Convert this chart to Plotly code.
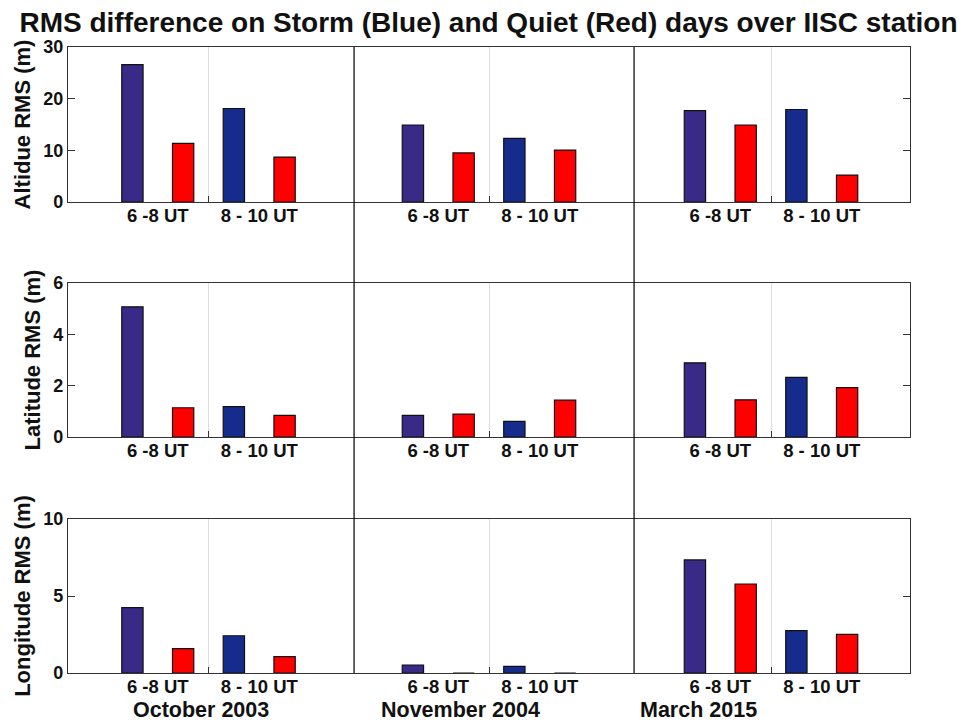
import plotly.graph_objects as go

# ---------------- data ----------------
months = ["October 2003", "November 2004", "March 2015"]
slots = ["6 -8 UT", "8 - 10 UT"]
row_titles = ["Altidue RMS (m)", "Latitude RMS (m)", "Longitude RMS (m)"]

altitude_storm = [[26.6, 18.1], [14.9, 12.3], [17.7, 17.9]]
altitude_quiet = [[11.35, 8.7], [9.5, 10.05], [14.9, 5.2]]
latitude_storm = [[5.07, 1.18], [0.84, 0.61], [2.89, 2.32]]
latitude_quiet = [[1.14, 0.84], [0.89, 1.44], [1.45, 1.92]]
longitude_storm = [[4.24, 2.42], [0.52, 0.43], [7.34, 2.75]]
longitude_quiet = [[1.58, 1.06], [0.0, 0.0], [5.78, 2.51]]

y_ranges = [[0, 30], [0, 6], [0, 10]]
y_dticks = [10, 2, 5]

# ---------------- layout helpers ----------------
OFF = 8                      # page body margin
W, H = 974 - OFF, 723 - OFF
FONT = "Liberation Sans, Arial, Helvetica, sans-serif"
storm_cols = ["#392A87", "#152C8C"]
quiet_col = "#FF0000"
month_off = [1.27, 6.80, 12.36]      # axis position of first bar in each month group
dividers = [5.64, 11.16]
x_range = [0, 16.6]
left_px, right_px = 68, 910
rows_px = [(47, 202), (283, 437), (519, 673)]

def px(p):
    return (p - OFF) / W

def py(p):
    return 1 - (p - OFF) / H

fig = go.Figure()
series = [(altitude_storm, altitude_quiet), (latitude_storm, latitude_quiet),
          (longitude_storm, longitude_quiet)]

for r, (storm, quiet) in enumerate(series):
    xa = "x" if r == 0 else f"x{r+1}"
    ya = "y" if r == 0 else f"y{r+1}"
    sx, sy, sc, qx, qy = [], [], [], [], []
    for m in range(len(months)):
        for s in range(len(slots)):
            sx.append(month_off[m] + 2 * s)
            sy.append(storm[m][s])
            sc.append(storm_cols[s])
            qx.append(month_off[m] + 2 * s + 1)
            qy.append(quiet[m][s])
    fig.add_trace(go.Bar(x=sx, y=sy, width=0.42, xaxis=xa, yaxis=ya,
                         marker=dict(color=sc, line=dict(color="#111111", width=1.2)),
                         showlegend=False, name="Storm"))
    fig.add_trace(go.Bar(x=qx, y=qy, width=0.42, xaxis=xa, yaxis=ya,
                         marker=dict(color=quiet_col, line=dict(color="#111111", width=1.2)),
                         showlegend=False, name="Quiet"))

    tickvals, ticktext, minor_vals = [], [], []
    for m in range(len(months)):
        for s in range(len(slots)):
            tickvals.append(month_off[m] + 2 * s + 0.5)
            ticktext.append(slots[s])
        minor_vals.append(month_off[m] + 1.5)

    top, bot = rows_px[r]
    sfx = "" if r == 0 else str(r + 1)
    fig.update_layout(**{
        f"xaxis{sfx}": dict(
            domain=[px(left_px), px(right_px)], range=x_range, anchor=ya, automargin=False,
            tickvals=tickvals, ticktext=ticktext, ticks="", showgrid=False,
            ticklabelstandoff=-3,
            zeroline=False, showline=True, linecolor="#333333", linewidth=1.3, mirror=True,
            tickfont=dict(family=FONT, size=18.5, color="#111111", weight="bold"),
            minor=dict(tickvals=minor_vals, ticks="inside", ticklen=6, tickcolor="#333333",
                       showgrid=True, gridcolor="#DDDDDD", gridwidth=1),
            fixedrange=True,
        ),
        f"yaxis{sfx}": dict(
            domain=[py(bot), py(top)], range=y_ranges[r], dtick=y_dticks[r], anchor=xa,
            automargin=False,
            ticks="inside", ticklen=7, tickcolor="#333333", showgrid=False, zeroline=False,
            showline=True, linecolor="#333333", linewidth=1.3, mirror="ticks",
            tickfont=dict(family=FONT, size=18, color="#111111", weight="bold"),
            title=dict(text=row_titles[r], standoff=6,
                       font=dict(family=FONT, size=22, color="#111111", weight="bold")),
            fixedrange=True,
        ),
    })

# month dividers spanning all three rows
for d in dividers:
    fig.add_shape(type="line", xref="x", yref="paper", x0=d, x1=d,
                  y0=py(rows_px[2][1]), y1=py(rows_px[0][0]),
                  line=dict(color="#111111", width=1.3))

# month labels
month_label_px = [201, 460, 698]
for m, name in enumerate(months):
    fig.add_annotation(text=name, xref="paper", yref="paper", x=px(month_label_px[m]),
                       y=py(710), showarrow=False, xanchor="center", yanchor="middle",
                       font=dict(family=FONT, size=21.5, color="#111111", weight="bold"))

fig.update_layout(
    width=W, height=H, margin=dict(l=0, r=0, t=0, b=0, autoexpand=False),
    paper_bgcolor="white", plot_bgcolor="white", barmode="overlay",
    title=dict(text="RMS difference on Storm (Blue) and Quiet (Red) days over IISC station",
               x=px(488.5), xanchor="center", y=py(22), yanchor="middle",
               font=dict(family=FONT, size=28, color="#111111", weight="bold")),
)

fig.write_html("out.html")
